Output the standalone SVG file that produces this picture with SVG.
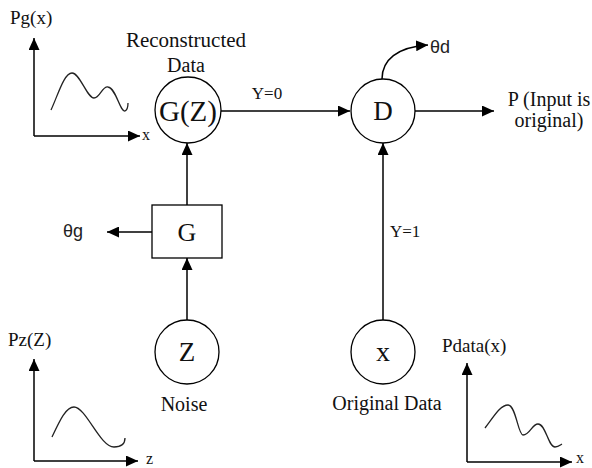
<svg xmlns="http://www.w3.org/2000/svg" width="592" height="468" viewBox="0 0 592 468">
<style>
.l{stroke:#000;stroke-width:1.5;fill:none}
.n{stroke:#000;stroke-width:1.3;fill:#fff}
.c{stroke:#222;stroke-width:1.3;fill:none}
.t{font-family:"Liberation Serif","Times New Roman",serif;fill:#111}
.s{font-family:"Liberation Sans",Arial,sans-serif;fill:#222}
</style>
<defs>
<marker id="ah" markerWidth="12" markerHeight="11" refX="12" refY="5.5" orient="auto" markerUnits="userSpaceOnUse">
<path d="M0,0 L12,5.5 L0,11 z" fill="#000"/>
</marker>
</defs>
<rect width="592" height="468" fill="#fff"/>
<g id="connectors">
<line class="l" x1="187" y1="320" x2="187" y2="258" marker-end="url(#ah)"/>
<line class="l" x1="187" y1="205" x2="187" y2="143" marker-end="url(#ah)"/>
<line class="l" x1="152" y1="232" x2="107" y2="232" marker-end="url(#ah)"/>
<line class="l" x1="221" y1="111" x2="350" y2="111" marker-end="url(#ah)"/>
<line class="l" x1="415" y1="111" x2="494" y2="111" marker-end="url(#ah)"/>
<line class="l" x1="383" y1="320" x2="383" y2="143" marker-end="url(#ah)"/>
<path class="l" d="M382,79 C382,60 397,47 428,45" marker-end="url(#ah)"/>
<text class="t" x="267" y="99" font-size="17" text-anchor="middle">Y=0</text>
<text class="t" x="390" y="237" font-size="17">Y=1</text>
</g>
<g id="pg-plot">
<line class="l" x1="34" y1="136" x2="34" y2="38" marker-end="url(#ah)"/>
<line class="l" x1="34" y1="136" x2="140" y2="136" marker-end="url(#ah)"/>
<path class="c" d="M51,110 C58,95 64,73 72,73 C80,73 87,98 94,98 C100,98 102,86 108,87 C116,88 120,112 125,111 C127,110 128,106 128,103"/>
<text class="t" x="10" y="24" font-size="19">Pg(x)</text>
<text class="t" x="142" y="140" font-size="16">x</text>
</g>
<g id="gz">
<circle class="n" cx="188" cy="110" r="33"/>
<text class="t" x="188" y="121" font-size="29" text-anchor="middle">G(Z)</text>
<text class="t" x="186" y="47" font-size="21" text-anchor="middle">Reconstructed</text>
<text class="t" x="186" y="72" font-size="20" text-anchor="middle">Data</text>
</g>
<g id="d">
<circle class="n" cx="383" cy="111" r="32"/>
<text class="t" x="383" y="120" font-size="27" text-anchor="middle">D</text>
</g>
<g id="thetad">
<text class="s" x="430" y="53" font-size="18">θd</text>
</g>
<g id="p">
<text class="t" x="549" y="106" font-size="20" text-anchor="middle">P (Input is</text>
<text class="t" x="549" y="127" font-size="20" text-anchor="middle">original)</text>
</g>
<g id="g">
<rect class="n" x="152" y="205" width="70" height="53"/>
<text class="t" x="187" y="241" font-size="26" text-anchor="middle">G</text>
</g>
<g id="thetag">
<text class="s" x="63" y="237" font-size="18">θg</text>
</g>
<g id="z">
<circle class="n" cx="187" cy="352" r="32"/>
<text class="t" x="187" y="361" font-size="27" text-anchor="middle">Z</text>
<text class="t" x="184" y="411" font-size="20" text-anchor="middle">Noise</text>
</g>
<g id="x">
<circle class="n" cx="383" cy="352" r="32"/>
<text class="t" x="383" y="361" font-size="28" text-anchor="middle">x</text>
<text class="t" x="387" y="410" font-size="20" text-anchor="middle">Original Data</text>
</g>
<g id="pz-plot">
<line class="l" x1="34" y1="461" x2="34" y2="359" marker-end="url(#ah)"/>
<line class="l" x1="34" y1="461" x2="138" y2="461" marker-end="url(#ah)"/>
<path class="c" d="M52,437 C60,420 66,407 74,407 C86,407 100,447 114,447 C122,447 125,443 125,438"/>
<text class="t" x="8" y="346" font-size="19">Pz(Z)</text>
<text class="t" x="146" y="464" font-size="16">z</text>
</g>
<g id="pdata-plot">
<line class="l" x1="467" y1="462" x2="467" y2="363" marker-end="url(#ah)"/>
<line class="l" x1="467" y1="462" x2="572" y2="462" marker-end="url(#ah)"/>
<path class="c" d="M485,428 C493,418 500,405 508,405 C516,405 518,435 523,435 C530,435 532,424 538,424 C546,424 548,447 555,447 C559,447 560,445 562,444"/>
<text class="t" x="442" y="352" font-size="19">Pdata(x)</text>
<text class="t" x="576" y="463" font-size="16">x</text>
</g>
</svg>
